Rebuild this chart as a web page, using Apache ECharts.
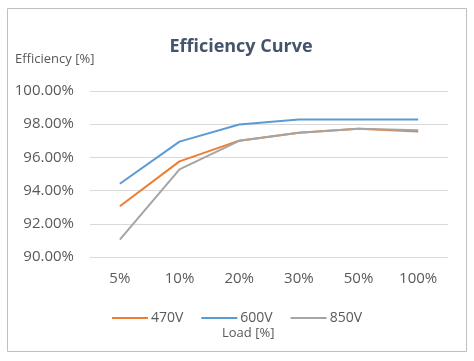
<!DOCTYPE html>
<html><head><meta charset="utf-8">
<script src="https://cdn.jsdelivr.net/npm/echarts@6/dist/echarts.min.js"></script>
<style>html,body{margin:0;padding:0;background:#fff}#c{width:474px;height:361px}</style>
</head><body><div id="c"></div>
<script>
const categories = ['5%','10%','20%','30%','50%','100%'];
const s470 = [93.06, 95.76, 97.01, 97.48, 97.72, 97.56];
const s600 = [94.41, 96.95, 97.98, 98.28, 98.28, 98.28];
const s850 = [91.05, 95.28, 97.00, 97.48, 97.72, 97.64];
const seriesNames = ['470V','600V','850V'];
const colors = ['#ED7D31','#5B9BD5','#A5A5A5'];
const FONT = '"Open Sans", "Noto Sans", sans-serif';

const chart = echarts.init(document.getElementById('c'), null, {renderer:'canvas'});
chart.setOption({
  animation:false,
  textStyle:{fontFamily:FONT},
  title:{text:'Efficiency Curve', left:236, top:33, textAlign:'center',
    textStyle:{fontFamily:FONT, fontSize:18, fontWeight:'bold', color:'#44546A'}},
  graphic:[
    {type:'rect', shape:{x:7.5,y:8.5,width:459,height:343}, style:{fill:'none', stroke:'#BFBFBF', lineWidth:1}, z:-1},
    {type:'text', left:15, top:53, style:{text:'Efficiency [%]', font:'13px '+FONT, fill:'#595959'}},
    {type:'text', left:222, top:327, style:{text:'Load [%]', font:'13px '+FONT, fill:'#595959'}}
  ],
  legend:{left:'center', top:306, itemWidth:36, itemHeight:2, itemGap:18,
    icon:'rect',
    textStyle:{fontFamily:FONT, fontSize:14, color:'#595959', padding:[0,0,0,-2]},
    data:seriesNames},
  grid:{left:90, right:26, top:91, bottom:104, containLabel:false},
  xAxis:{type:'category', data:categories, boundaryGap:true,
    axisLine:{show:false}, axisTick:{show:false},
    axisLabel:{fontFamily:FONT, fontSize:15, color:'#595959', margin:14}},
  yAxis:{type:'value', min:90, max:100, interval:2,
    axisLine:{show:false}, axisTick:{show:false},
    splitLine:{lineStyle:{color:'#D9D9D9', width:1}},
    axisLabel:{fontFamily:FONT, fontSize:15, color:'#595959', margin:16,
      formatter:v=>v.toFixed(2)+'%'}},
  series:[
    {name:seriesNames[0], type:'line', data:s470, color:colors[0], showSymbol:false, symbol:'none', lineStyle:{width:2}},
    {name:seriesNames[1], type:'line', data:s600, color:colors[1], showSymbol:false, symbol:'none', lineStyle:{width:2}},
    {name:seriesNames[2], type:'line', data:s850, color:colors[2], showSymbol:false, symbol:'none', lineStyle:{width:2}}
  ]
});
</script></body></html>
